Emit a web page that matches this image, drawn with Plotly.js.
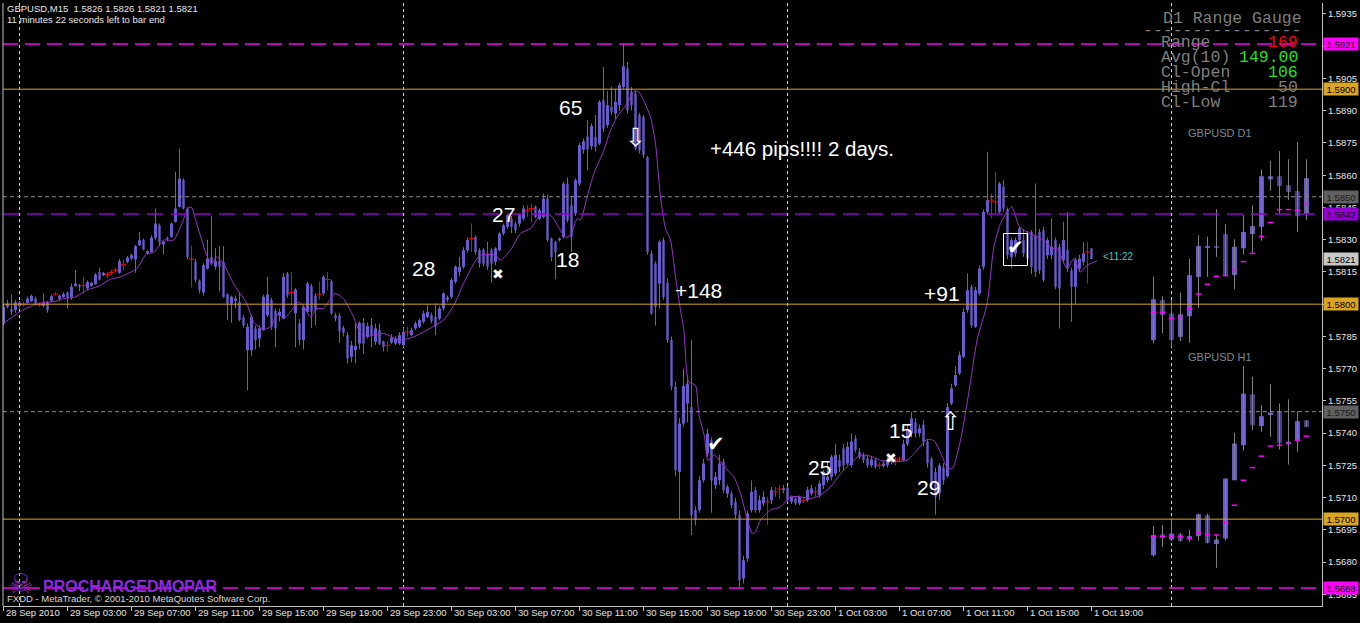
<!DOCTYPE html>
<html><head><meta charset="utf-8">
<script src="https://cdn.plot.ly/plotly-3.0.1.min.js"></script>
<style>html,body{margin:0;padding:0;background:#000;}#chart{width:1360px;height:623px;}</style>
</head><body><div id="chart"></div>
<script>
// ---- data (GBPUSD M15, bar index 0 = 28 Sep 2010 23:00) ----
const tickIdx = [0,16,32,48,64,80,96,112,128,144,160,176,192,208,224,240,256,272];
const tickText = ['28 Sep 2010','29 Sep 03:00','29 Sep 07:00','29 Sep 11:00','29 Sep 15:00','29 Sep 19:00','29 Sep 23:00','30 Sep 03:00','30 Sep 07:00','30 Sep 11:00','30 Sep 15:00','30 Sep 19:00','30 Sep 23:00','1 Oct 03:00','1 Oct 07:00','1 Oct 11:00','1 Oct 15:00','1 Oct 19:00'];
const daySeparators = [4,100,196,292];

const openP = [1.57910,1.57988,1.57977,1.57972,1.57992,1.58000,1.58006,1.58014,1.58026,1.57997,1.57992,1.58011,1.58016,1.58047,1.58026,1.58034,1.58054,1.58034,1.58085,1.58088,1.58088,1.58073,1.58085,1.58093,1.58150,1.58135,1.58138,1.58147,1.58158,1.58146,1.58184,1.58197,1.58212,1.58208,1.58274,1.58298,1.58236,1.58243,1.58309,1.58367,1.58278,1.58303,1.58313,1.58383,1.58453,1.58577,1.58445,1.58209,1.58197,1.58109,1.58054,1.58166,1.58220,1.58174,1.58200,1.58197,1.58047,1.58003,1.58016,1.58011,1.57938,1.57786,1.57786,1.57887,1.57840,1.57879,1.57949,1.58019,1.57969,1.57949,1.57933,1.58143,1.58054,1.57957,1.57910,1.57833,1.57964,1.58084,1.58039,1.58047,1.58050,1.58115,1.58107,1.57949,1.57947,1.57890,1.57856,1.57755,1.57786,1.57817,1.57913,1.57848,1.57902,1.57825,1.57879,1.57828,1.57809,1.57822,1.57817,1.57817,1.57809,1.57871,1.57856,1.57887,1.57895,1.57918,1.57941,1.57949,1.57941,1.57933,1.57980,1.58034,1.58034,1.58104,1.58150,1.58174,1.58251,1.58305,1.58313,1.58251,1.58254,1.58236,1.58251,1.58197,1.58251,1.58329,1.58360,1.58398,1.58375,1.58375,1.58398,1.58437,1.58445,1.58453,1.58398,1.58406,1.58491,1.58305,1.58290,1.58298,1.58313,1.58561,1.58460,1.58422,1.58561,1.58719,1.58780,1.58735,1.58778,1.58747,1.58949,1.58833,1.58918,1.58887,1.58926,1.59011,1.59096,1.58988,1.58980,1.58879,1.58871,1.58685,1.58236,1.58189,1.58096,1.58298,1.58100,1.57833,1.57616,1.57220,1.57445,1.57538,1.57522,1.57042,1.57042,1.57181,1.57305,1.57367,1.57158,1.57181,1.57267,1.57119,1.57119,1.57081,1.57019,1.56724,1.56817,1.57042,1.57135,1.57042,1.57073,1.57081,1.57088,1.57127,1.57140,1.57135,1.57147,1.57081,1.57096,1.57073,1.57088,1.57088,1.57119,1.57127,1.57112,1.57158,1.57181,1.57197,1.57212,1.57274,1.57329,1.57259,1.57251,1.57375,1.57313,1.57298,1.57282,1.57251,1.57274,1.57251,1.57247,1.57251,1.57274,1.57274,1.57280,1.57274,1.57350,1.57400,1.57450,1.57400,1.57440,1.57360,1.57280,1.57220,1.57120,1.57240,1.57200,1.57538,1.57623,1.57678,1.57755,1.57972,1.58081,1.57895,1.58050,1.58174,1.58429,1.58484,1.58476,1.58429,1.58546,1.58440,1.58220,1.58236,1.58298,1.58298,1.58329,1.58336,1.58321,1.58336,1.58344,1.58228,1.58228,1.58298,1.58267,1.58205,1.58251,1.58158,1.58081,1.58166,1.58197,1.58243,1.58260];
const highP = [1.58000,1.58020,1.58045,1.58020,1.58015,1.58010,1.58035,1.58045,1.58035,1.58006,1.58050,1.58015,1.58045,1.58055,1.58045,1.58055,1.58060,1.58096,1.58158,1.58095,1.58127,1.58110,1.58105,1.58145,1.58170,1.58150,1.58150,1.58160,1.58170,1.58210,1.58208,1.58225,1.58235,1.58275,1.58336,1.58305,1.58250,1.58320,1.58445,1.58375,1.58295,1.58315,1.58380,1.58616,1.58724,1.58585,1.58450,1.58271,1.58210,1.58115,1.58190,1.58300,1.58410,1.58260,1.58270,1.58270,1.58050,1.58040,1.58040,1.58054,1.57950,1.57910,1.57950,1.57900,1.57900,1.58045,1.58127,1.58030,1.57980,1.57980,1.58145,1.58150,1.58150,1.58075,1.57930,1.57995,1.58105,1.58095,1.58050,1.58104,1.58135,1.58150,1.58115,1.57960,1.57960,1.57900,1.57870,1.57830,1.57910,1.57920,1.57935,1.57915,1.57935,1.57910,1.57910,1.57830,1.57830,1.57860,1.57850,1.57870,1.57890,1.57895,1.57890,1.57920,1.57935,1.57970,1.57995,1.57960,1.58003,1.57990,1.58055,1.58040,1.58120,1.58180,1.58220,1.58265,1.58310,1.58375,1.58320,1.58260,1.58260,1.58290,1.58260,1.58265,1.58335,1.58375,1.58420,1.58410,1.58385,1.58420,1.58460,1.58460,1.58468,1.58460,1.58445,1.58515,1.58510,1.58310,1.58295,1.58310,1.58570,1.58590,1.58500,1.58585,1.58750,1.58770,1.58856,1.58840,1.58880,1.58950,1.59104,1.58990,1.59011,1.59000,1.59030,1.59212,1.59127,1.59010,1.58995,1.58890,1.58880,1.58690,1.58250,1.58200,1.58300,1.58310,1.58120,1.57850,1.57640,1.57470,1.57700,1.57670,1.57833,1.57060,1.57200,1.57280,1.57420,1.57380,1.57220,1.57300,1.57280,1.57160,1.57130,1.57100,1.57040,1.56830,1.57040,1.57180,1.57150,1.57110,1.57130,1.57104,1.57150,1.57150,1.57158,1.57160,1.57155,1.57110,1.57105,1.57110,1.57100,1.57150,1.57160,1.57150,1.57180,1.57230,1.57270,1.57300,1.57350,1.57300,1.57350,1.57360,1.57398,1.57390,1.57330,1.57310,1.57300,1.57290,1.57285,1.57265,1.57270,1.57290,1.57285,1.57290,1.57290,1.57370,1.57440,1.57500,1.57470,1.57440,1.57460,1.57370,1.57290,1.57240,1.57260,1.57260,1.57540,1.57630,1.57710,1.57780,1.57980,1.58143,1.58090,1.58080,1.58181,1.58440,1.58709,1.58515,1.58616,1.58570,1.58577,1.58450,1.58310,1.58310,1.58360,1.58350,1.58340,1.58345,1.58561,1.58350,1.58360,1.58310,1.58398,1.58310,1.58280,1.58383,1.58429,1.58170,1.58215,1.58230,1.58290,1.58290,1.58260];
const lowP = [1.57900,1.57980,1.57950,1.57960,1.57980,1.57990,1.58000,1.58010,1.57995,1.57988,1.57985,1.57960,1.58010,1.58040,1.58015,1.58030,1.57980,1.58020,1.58080,1.58060,1.58050,1.58065,1.58080,1.58090,1.58110,1.58130,1.58120,1.58135,1.58150,1.58140,1.58158,1.58190,1.58205,1.58146,1.58270,1.58250,1.58230,1.58240,1.58300,1.58270,1.58230,1.58295,1.58310,1.58380,1.58450,1.58440,1.58210,1.58078,1.58100,1.58050,1.58040,1.58160,1.58180,1.58160,1.58060,1.58030,1.57926,1.57913,1.57980,1.57920,1.57890,1.57600,1.57760,1.57790,1.57800,1.57875,1.57940,1.57880,1.57800,1.57920,1.57930,1.58030,1.57995,1.57800,1.57810,1.57790,1.57960,1.57890,1.57902,1.58019,1.58040,1.58065,1.57950,1.57920,1.57820,1.57850,1.57725,1.57730,1.57725,1.57790,1.57770,1.57840,1.57800,1.57810,1.57810,1.57780,1.57780,1.57815,1.57810,1.57810,1.57800,1.57848,1.57850,1.57880,1.57890,1.57910,1.57935,1.57910,1.57856,1.57925,1.57970,1.58010,1.58025,1.58095,1.58130,1.58165,1.58240,1.58243,1.58230,1.58170,1.58175,1.58160,1.58100,1.58180,1.58245,1.58320,1.58350,1.58330,1.58330,1.58360,1.58390,1.58406,1.58383,1.58400,1.58390,1.58400,1.58290,1.58200,1.58116,1.58290,1.58305,1.58380,1.58243,1.58410,1.58550,1.58700,1.58623,1.58720,1.58710,1.58740,1.58800,1.58820,1.58880,1.58860,1.58900,1.59000,1.58887,1.58900,1.58716,1.58700,1.58680,1.58230,1.57950,1.57900,1.57980,1.58020,1.57820,1.57600,1.57200,1.57000,1.57430,1.57450,1.56926,1.56970,1.57030,1.57170,1.57290,1.57030,1.57140,1.57160,1.57120,1.57100,1.57050,1.57000,1.56685,1.56700,1.56800,1.57030,1.57030,1.57030,1.57060,1.56972,1.57070,1.57104,1.57096,1.57120,1.57080,1.57070,1.57065,1.57065,1.57075,1.57080,1.57110,1.57104,1.57100,1.57140,1.57170,1.57180,1.57200,1.57220,1.57230,1.57250,1.57240,1.57310,1.57280,1.57260,1.57240,1.57240,1.57235,1.57235,1.57240,1.57240,1.57255,1.57250,1.57265,1.57270,1.57340,1.57380,1.57380,1.57380,1.57340,1.57240,1.57140,1.57020,1.57090,1.57160,1.57190,1.57530,1.57615,1.57670,1.57750,1.57960,1.57890,1.57890,1.58040,1.58160,1.58420,1.58398,1.58422,1.58420,1.58430,1.58210,1.58166,1.58220,1.58280,1.58220,1.58200,1.58140,1.58127,1.58140,1.58104,1.58210,1.58210,1.58070,1.57887,1.58190,1.58150,1.57918,1.58000,1.58150,1.58180,1.58096,1.58210];
const closeP = [1.57988,1.58003,1.57964,1.58008,1.58008,1.58000,1.58026,1.58039,1.58003,1.57997,1.58003,1.57972,1.58037,1.58047,1.58039,1.58047,1.58029,1.58081,1.58096,1.58081,1.58088,1.58104,1.58099,1.58138,1.58115,1.58146,1.58138,1.58147,1.58158,1.58200,1.58184,1.58217,1.58228,1.58270,1.58298,1.58254,1.58247,1.58309,1.58375,1.58290,1.58290,1.58307,1.58375,1.58445,1.58584,1.58445,1.58220,1.58209,1.58112,1.58065,1.58181,1.58212,1.58189,1.58200,1.58174,1.58034,1.58003,1.58034,1.58026,1.57926,1.57902,1.57895,1.57941,1.57833,1.57887,1.58034,1.58045,1.57895,1.57887,1.57964,1.58127,1.58042,1.58054,1.58068,1.57833,1.57988,1.58096,1.57964,1.57972,1.58047,1.58127,1.58115,1.57957,1.57933,1.57874,1.57867,1.57747,1.57809,1.57806,1.57913,1.57817,1.57898,1.57856,1.57887,1.57817,1.57802,1.57809,1.57843,1.57840,1.57856,1.57871,1.57871,1.57879,1.57910,1.57926,1.57957,1.57964,1.57922,1.57895,1.57980,1.58050,1.58019,1.58112,1.58174,1.58174,1.58251,1.58298,1.58305,1.58243,1.58189,1.58189,1.58174,1.58189,1.58259,1.58329,1.58367,1.58414,1.58360,1.58344,1.58414,1.58445,1.58437,1.58445,1.58406,1.58437,1.58491,1.58298,1.58220,1.58243,1.58305,1.58561,1.58390,1.58313,1.58577,1.58740,1.58758,1.58720,1.58828,1.58732,1.58941,1.58817,1.58926,1.58895,1.58941,1.59019,1.59107,1.58902,1.58926,1.58724,1.58716,1.58693,1.58243,1.57957,1.57988,1.58290,1.58034,1.57833,1.57616,1.57228,1.57445,1.57619,1.57631,1.57019,1.56995,1.57181,1.57259,1.57398,1.57181,1.57197,1.57259,1.57135,1.57150,1.57065,1.57019,1.56716,1.56809,1.57026,1.57127,1.57042,1.57088,1.57104,1.57081,1.57135,1.57127,1.57140,1.57143,1.57088,1.57104,1.57073,1.57104,1.57088,1.57135,1.57143,1.57127,1.57166,1.57220,1.57197,1.57290,1.57298,1.57243,1.57251,1.57336,1.57360,1.57321,1.57290,1.57274,1.57251,1.57278,1.57243,1.57251,1.57259,1.57274,1.57265,1.57274,1.57280,1.57350,1.57420,1.57468,1.57398,1.57422,1.57360,1.57260,1.57160,1.57104,1.57250,1.57180,1.57522,1.57608,1.57670,1.57763,1.57964,1.58065,1.57902,1.58065,1.58166,1.58429,1.58484,1.58484,1.58476,1.58561,1.58445,1.58228,1.58298,1.58298,1.58352,1.58236,1.58212,1.58174,1.58150,1.58158,1.58112,1.58298,1.58267,1.58081,1.58073,1.58298,1.58166,1.58081,1.58205,1.58212,1.58236,1.58243,1.58210];

// moving average (bar position, price)
const maIdx = [0,4,7.5,10,12.5,15,18,20.8,24,26.7,29.2,33.3,35.8,37.5,40,42.5,44.6,46.25,47,48.3,50.8,52,53.3,55,57.5,60.8,62.5,65,66.7,68.75,70,71.7,73.75,75,76.7,78.3,80,82.9,85,87.5,89.2,90.8,95,99,102.6,105,107.6,110,112.6,115,117.6,119.25,123,124.25,126.75,129.25,131.75,134.25,136.75,139.25,140.5,141.75,143.4,144.25,145.9,147.6,150.1,151.75,153.4,155.9,157.6,158.8,160,161.75,163,164.25,165.5,166.75,168,169.25,170.1,171.3,173,173.8,175.25,176.1,177.75,179.25,181,182.6,184.25,186,187.2,188,189.25,191.75,194.25,196.75,199.25,201.75,204.25,206.75,209.25,211.75,214.25,216.75,219.25,222.6,225.9,228.4,230.9,232.6,234.5,236,237.25,239.25,241.3,243.4,245.9,247.6,249.25,250.9,252.1,253.8,255,257.5,260,262.2,263.4,265.9,267.6,269.25,270.9,273.4];
const maVal = [1.57910,1.57964,1.57995,1.58008,1.58011,1.58026,1.58034,1.58065,1.58085,1.58116,1.58127,1.58166,1.58236,1.58239,1.58298,1.58298,1.58375,1.58450,1.58450,1.58375,1.58228,1.58189,1.58220,1.58189,1.58096,1.58003,1.57918,1.57882,1.57895,1.57957,1.57933,1.57964,1.58011,1.57991,1.57941,1.57980,1.57980,1.58050,1.58026,1.57941,1.57864,1.57851,1.57864,1.57833,1.57848,1.57871,1.57898,1.57926,1.57995,1.58096,1.58189,1.58228,1.58228,1.58205,1.58251,1.58329,1.58352,1.58414,1.58414,1.58344,1.58310,1.58321,1.58398,1.58391,1.58499,1.58608,1.58716,1.58809,1.58871,1.58933,1.58988,1.58988,1.58949,1.58871,1.58747,1.58499,1.58352,1.58298,1.58127,1.57972,1.57879,1.57639,1.57623,1.57491,1.57383,1.57274,1.57298,1.57267,1.57228,1.57197,1.57119,1.56995,1.56933,1.56941,1.56995,1.57042,1.57057,1.57104,1.57104,1.57096,1.57112,1.57150,1.57212,1.57259,1.57298,1.57293,1.57274,1.57267,1.57274,1.57321,1.57371,1.57365,1.57300,1.57236,1.57236,1.57367,1.57586,1.57833,1.58003,1.58267,1.58375,1.58429,1.58453,1.58367,1.58344,1.58321,1.58298,1.58259,1.58259,1.58166,1.58212,1.58150,1.58181,1.58202];

// mini charts drawn by the indicator (in main-chart price scale)
const d1Open  = [1.57833,1.58019,1.57957,1.57848,1.57944,1.58127,1.58262,1.58270,1.58326,1.58135,1.58260,1.58326,1.58360,1.58581,1.58595,1.58553,1.58526,1.58419];
const d1High  = [1.58127,1.58037,1.58019,1.58053,1.58212,1.58321,1.58313,1.58442,1.58372,1.58302,1.58414,1.58460,1.58626,1.58667,1.58712,1.58674,1.58753,1.58674];
const d1Low   = [1.57817,1.57864,1.57802,1.57829,1.57820,1.57983,1.58127,1.58220,1.58130,1.58070,1.58231,1.58239,1.58295,1.58527,1.58419,1.58484,1.58336,1.58391];
const d1Close = [1.58023,1.57949,1.57833,1.57953,1.58135,1.58270,1.58270,1.58262,1.58132,1.58267,1.58336,1.58363,1.58595,1.58595,1.58549,1.58522,1.58409,1.58586];
const d1Mark  = [1.57961,1.57961,1.57933,1.57938,1.57980,1.58047,1.58093,1.58130,1.58133,1.58161,1.58198,1.58236,1.58315,1.58380,1.58440,1.58440,1.58437,1.58468];
const h1Open  = [1.56833,1.56930,1.56905,1.56930,1.56910,1.56921,1.57019,1.56884,1.56910,1.57181,1.57344,1.57581,1.57433,1.57484,1.57502,1.57349,1.57364,1.57460];
const h1High  = [1.56967,1.56972,1.57003,1.56936,1.56949,1.57026,1.57026,1.56925,1.57189,1.57402,1.57712,1.57662,1.57530,1.57628,1.57538,1.57557,1.57502,1.57460];
const h1Low   = [1.56825,1.56871,1.56899,1.56895,1.56895,1.56899,1.56887,1.56774,1.56902,1.57181,1.57318,1.57414,1.57406,1.57383,1.57324,1.57254,1.57313,1.57429];
const h1Close = [1.56926,1.56915,1.56933,1.56899,1.56921,1.57023,1.56890,1.56905,1.57189,1.57352,1.57584,1.57437,1.57479,1.57496,1.57355,1.57360,1.57456,1.57429];
const h1Mark  = [1.56918,1.56918,1.56921,1.56918,1.56910,1.56936,1.56929,1.56926,1.56984,1.57065,1.57181,1.57240,1.57293,1.57340,1.57344,1.57352,1.57367,1.57386];

const levelVals   = [1.5921,1.5900,1.5850,1.5842,1.5821,1.5800,1.5750,1.5700,1.5668];
const levelLabels = ['1.5921','1.5900','1.5850','1.5842','1.5821','1.5800','1.5750','1.5700','1.5668'];
const levelKinds  = ['magenta','gold','grey','violet','bid','gold','grey','gold','magenta'];

const gaugeLabels = ['Range','Avg(10)','Cl-Open','High-Cl','Cl-Low'];
const gaugeValues = ['169','149.00','106','50','119'];

// ---- styling ----
const BULL = '#6A5ACD', BEAR = '#483D8B', DOJI = '#FF0000', MA = '#9932CC';
const GOLD = '#DAA520', MAG = '#FF00FF', VIO = '#9400D3', GREY = '#808080';
const kindStyle = {
  magenta:{line:{color:MAG,width:1.5,dash:'15px,7px'},box:MAG,txt:'#000'},
  gold:{line:{color:GOLD,width:1,dash:'solid'},box:GOLD,txt:'#000'},
  grey:{line:{color:'#8a8a8a',width:1,dash:'4px,3px'},box:'#606060',txt:'#1a1a1a'},
  violet:{line:{color:VIO,width:1.5,dash:'16px,8px'},box:VIO,txt:'#000'},
  bid:{line:null,box:'#C8C8C8',txt:'#000'}
};
const PL=3, PT=3, PW=1319, PH=603;
const px = x => (x-PL)/PW, py = y => (PT+PH-y)/PH;
const SANS = 'Liberation Sans, Arial, sans-serif';
const MONO = 'Liberation Mono, Courier New, monospace';
const DJ = 'DejaVu Sans, sans-serif';

const N = closeP.length;
const traces = [];
function wicks(sel, color, xa, O, H, L, C, n) {
  const xs=[], ys=[];
  for (let i=0;i<n;i++) if (sel(i)) { xs.push(i,i,null); ys.push(L[i],H[i],null); }
  return {type:'scatter',mode:'lines',x:xs,y:ys,xaxis:xa,yaxis:'y',line:{color,width:1},hoverinfo:'skip',showlegend:false};
}
function bodies(sel, color, xa, O, C, n, w) {
  const xs=[], hs=[], bs=[];
  for (let i=0;i<n;i++) if (sel(i)) { xs.push(i); hs.push(Math.abs(C[i]-O[i])); bs.push(Math.min(O[i],C[i])); }
  return {type:'bar',x:xs,y:hs,base:bs,width:w,xaxis:xa,yaxis:'y',marker:{color,line:{width:0}},hoverinfo:'skip',showlegend:false};
}
const isDoji = i => openP[i]===closeP[i];
// main chart
traces.push(wicks(i=>!isDoji(i), BULL, 'x', openP, highP, lowP, closeP, N));
traces.push(wicks(isDoji, DOJI, 'x', openP, highP, lowP, closeP, N));
traces.push(bodies(i=>closeP[i]>openP[i], BULL, 'x', openP, closeP, N, 0.75));
traces.push(bodies(i=>closeP[i]<openP[i], BEAR, 'x', openP, closeP, N, 0.75));
(function(){ const xs=[],ys=[]; for(let i=0;i<N;i++) if(isDoji(i)){xs.push(i);ys.push(openP[i]);}
  traces.push({type:'scatter',mode:'markers',x:xs,y:ys,marker:{symbol:'line-ew',size:4,color:DOJI,line:{color:DOJI,width:1}},hoverinfo:'skip',showlegend:false}); })();
traces.push({type:'scatter',mode:'lines',x:maIdx,y:maVal,line:{color:MA,width:1,shape:'spline',smoothing:0.6},hoverinfo:'skip',showlegend:false});
// mini charts
const nD = d1Close.length, nH = h1Close.length;
traces.push(wicks(()=>true, GREY, 'x2', d1Open, d1High, d1Low, d1Close, nD));
traces.push(wicks(()=>true, GREY, 'x2', h1Open, h1High, h1Low, h1Close, nH));
traces.push(bodies(i=>d1Close[i]>=d1Open[i], BULL, 'x2', d1Open, d1Close, nD, 0.55));
traces.push(bodies(i=>d1Close[i]<d1Open[i], BEAR, 'x2', d1Open, d1Close, nD, 0.55));
traces.push(bodies(i=>h1Close[i]>=h1Open[i], BULL, 'x2', h1Open, h1Close, nH, 0.55));
traces.push(bodies(i=>h1Close[i]<h1Open[i], BEAR, 'x2', h1Open, h1Close, nH, 0.55));
traces.push({type:'scatter',mode:'markers',xaxis:'x2',yaxis:'y',x:[...d1Mark.keys(),...h1Mark.keys()],y:[...d1Mark,...h1Mark],
  marker:{symbol:'line-ew',size:4,color:MAG,line:{color:MAG,width:1.5}},hoverinfo:'skip',showlegend:false});

// ---- shapes ----
const shapes = [];
levelVals.forEach((v,k)=>{ const st=kindStyle[levelKinds[k]]; if(st.line) shapes.push({type:'line',xref:'paper',x0:0,x1:1,yref:'y',y0:v,y1:v,line:st.line,layer:'above'}); });
daySeparators.forEach(d=>shapes.push({type:'line',xref:'x',x0:d,x1:d,yref:'paper',y0:0,y1:1,line:{color:'#d0d0d0',width:1,dash:'3px,3px'},layer:'below'}));
shapes.push({type:'line',xref:'paper',x0:0,x1:0,yref:'paper',y0:0,y1:1,line:{color:'#c0c0c0',width:1}});
shapes.push({type:'rect',xref:'paper',yref:'paper',x0:px(1003.5),x1:px(1027.5),y0:py(265.5),y1:py(233.5),line:{color:'#ffffff',width:1}});

// ---- annotations ----
const ann = [];
function T(text,x,y,size,color,extra){ const a={xref:'paper',yref:'paper',x:px(x),y:py(y),text,showarrow:false,xanchor:'center',yanchor:'middle',font:{family:SANS,size,color}}; if(extra){ if(extra.family){a.font.family=extra.family; delete extra.family;} Object.assign(a,extra);} ann.push(a); }
// header
T('GBPUSD,M15\u00a0\u00a01.5826 1.5826 1.5821 1.5821',5,9,9.5,'#e6e6e6',{xanchor:'left'});
T('11 minutes 22 seconds left to bar end',5,20,9.5,'#e6e6e6',{xanchor:'left'});
// gauge
T('D1 Range Gauge',1161,18,16.5,'#7f7f7f',{xanchor:'left',family:MONO});
T('----------------',1141,30,16.5,'#7f7f7f',{xanchor:'left',family:MONO,height:12});
const gaugeColors = ['#FF0000','#22E022','#22E022','#7f7f7f','#7f7f7f'];
gaugeLabels.forEach((g,k)=>{ T(g,1159,42+15*k,16.5,'#7f7f7f',{xanchor:'left',family:MONO,height:15}); T(gaugeValues[k],1300,42+15*k,16.5,gaugeColors[k],{xanchor:'right',family:MONO,height:15}); });
// mini chart captions
T('GBPUSD D1',1220,133,11,'#7d8790');
T('GBPUSD H1',1220,357,11,'#7d8790');
// trade marks
T('65',570,107,21,'#fff'); T('27',503,215,21,'#fff'); T('28',423,268,21,'#fff'); T('18',567,260,21,'#fff');
T('+148',698,290,21,'#fff'); T('+446 pips!!!! 2 days.',802,148,20.5,'#fff');
T('+91',942,293,21,'#fff'); T('25',819,468,21,'#fff'); T('15',900,430,21,'#fff'); T('29',928,487,21,'#fff');
T('\u2716',498,274,14,'#fff',{family:DJ}); T('\u2716',891,458,14,'#fff',{family:DJ});
T('\u2714',716,444,21,'#fff',{family:DJ}); T('\u2714',1015,247,20,'#fff',{family:DJ});
T('\u21E9',635,137,25,'#fff',{family:DJ}); T('\u21E7',950,421,25,'#fff',{family:DJ});
T('<11:22',1101,256,10,'#33CCCC',{xanchor:'left'});
// footer
T('\u2620',21,583,27,'#9932CC',{family:DJ});
T('<b>PROCHARGEDMOPAR</b>',41,586,16,'#8A2BE2',{xanchor:'left',family:'Liberation Sans Narrow, Liberation Sans, sans-serif'});
T('FXDD - MetaTrader, \u00a9 2001-2010 MetaQuotes Software Corp.',5,598,9.5,'#d8d8d8',{xanchor:'left'});
// time labels
tickIdx.forEach((t,k)=>ann.push({xref:'x',yref:'paper',x:t,y:0,xanchor:'left',yanchor:'top',yshift:1,showarrow:false,text:tickText[k],font:{family:SANS,size:9.5,color:'#e6e6e6'}}));
// price boxes
levelVals.forEach((v,k)=>{ const st=kindStyle[levelKinds[k]]; ann.push({xref:'paper',yref:'y',x:1,y:v,xanchor:'left',yanchor:'middle',xshift:1,showarrow:false,text:levelLabels[k],bgcolor:st.box,width:34,height:12,borderpad:0,font:{family:SANS,size:9.5,color:st.txt}}); });

const layout = {
  width:1360,height:623,margin:{l:PL,r:38,t:PT,b:17},
  paper_bgcolor:'#000',plot_bgcolor:'rgba(0,0,0,0)',showlegend:false,hovermode:false,dragmode:false,barmode:'overlay',
  xaxis:{range:[-0.125,329.625],showgrid:false,zeroline:false,showline:true,linecolor:'#c0c0c0',linewidth:1,ticks:'outside',ticklen:4,tickcolor:'#c0c0c0',tickmode:'array',tickvals:tickIdx,showticklabels:false,fixedrange:true},
  xaxis2:{domain:[(1149-PL)/PW,(1311-PL)/PW],range:[-0.5,17.5],anchor:'y',visible:false,fixedrange:true},
  yaxis:{side:'right',range:[1.56596,1.59401],showgrid:false,zeroline:false,showline:true,linecolor:'#c0c0c0',linewidth:1,ticks:'outside',ticklen:3,tickcolor:'#c0c0c0',tickmode:'linear',tick0:1.5665,dtick:0.0015,tickformat:'.4f',tickfont:{family:SANS,size:9.5,color:'#e6e6e6'},fixedrange:true},
  shapes, annotations:ann
};
Plotly.newPlot('chart',traces,layout,{staticPlot:true,displayModeBar:false});
</script></body></html>
